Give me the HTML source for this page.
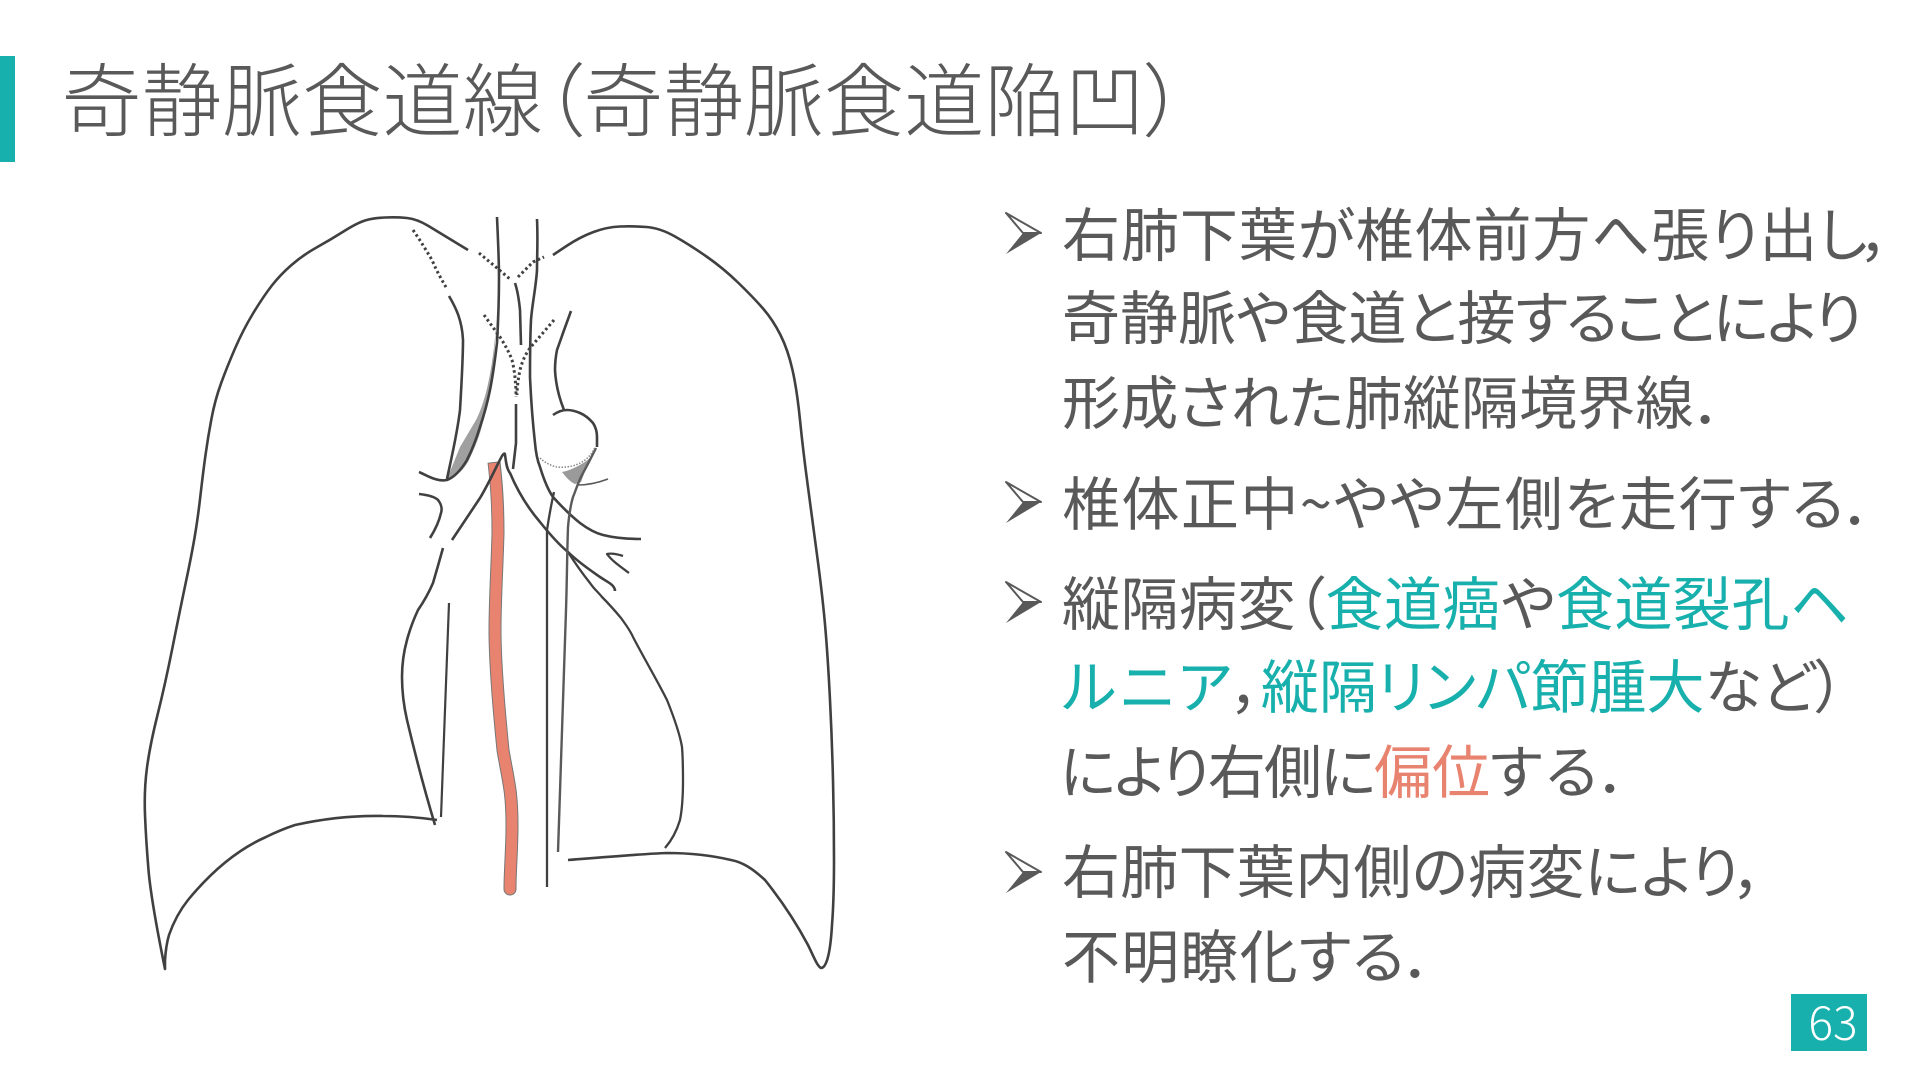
<!DOCTYPE html>
<html lang="ja"><head><meta charset="utf-8">
<style>
html,body{margin:0;padding:0;background:#fff}
#s{position:relative;width:1920px;height:1080px;overflow:hidden;background:#fff;font-family:"Noto Sans CJK JP","Liberation Sans",sans-serif;font-weight:400;color:#595959}
.l{position:absolute;left:1062px;white-space:nowrap;font-size:58px;line-height:84px;height:84px;font-feature-settings:"palt";}
.t{color:#17b0ac}.r{color:#e8836f}
svg{position:absolute;left:0;top:0}
</style></head><body><div id="s">
<div style="position:absolute;left:0;top:56px;width:15px;height:106px;background:#17b0ac"></div>
<div style="position:absolute;left:61.5px;top:38px;font-size:80px;line-height:116px;white-space:nowrap;font-weight:300;letter-spacing:.25px;font-feature-settings:'palt'">奇静脈食道線（奇静脈食道陥凹）</div>
<svg width="1920" height="1080" viewBox="0 0 1920 1080" fill="none" stroke-linecap="butt" stroke-linejoin="round">
<defs><g id="a"><path d="M0,0 L35,20 L17,20 Z" fill="#fff" stroke="#595959" stroke-width="2"/><path d="M35,20 L17,20 L0,41 Z" fill="#595959"/></g></defs>
<use href="#a" x="1006" y="213"/><use href="#a" x="1006" y="482"/><use href="#a" x="1006" y="582"/><use href="#a" x="1006" y="852"/>
<path d="M497,310 C495,350 489,395 476,420 L460,447 L447,479 C455,477 462,472 468,462 C474,450 477,442 480,433 C490,400 495,360 497,310Z" fill="#a0a0a0"/>
<path d="M562,472 C572,470 583,464 590,458 L581,482 L575,484 C570,482 566,477 562,472Z" fill="#9a9a9a"/>
<path d="M494,462 C496,480 498,500 498,533 C497,570 495,600 495,630 C495,660 498,700 503,750 C508,780 512,790 512,825 C512,850 510,870 510,889" stroke="#777" stroke-width="13"/>
<circle cx="510" cy="889" r="6.500" fill="#777"/>
<path d="M494,463 C496,480 498,500 498,533 C497,570 495,600 495,630 C495,660 498,700 503,750 C508,780 512,790 512,825 C512,850 510,870 510,889" stroke="#e8836f" stroke-width="11"/>
<circle cx="510" cy="889" r="5.500" fill="#e8836f"/>
<g stroke="#404040" stroke-width="2.600">
<path d="M468,250 L454,241.500 Q440,233 428.500,226 Q417,219 407,218 Q397,217 385,217.500 Q373,218 365,220.500 Q357,223 343.500,231.500 Q330,240 316.500,247.500 Q303,255 291.500,265 Q280,275 271.500,286 Q263,297 253,313.500 Q243,330 235,348.500 Q227,367 221,383.500 Q215,400 211.500,418.500 Q208,437 205.500,455 Q203,473 200.500,495 Q198,517 195,535 Q192,553 186,581.500 Q180,610 172.500,647.500 Q165,685 157.500,715 Q150,745 147,767.500 Q144,790 145,815 Q146,840 148.500,870 Q151,900 165,969 L165,960 Q166,945 169,935 Q176,915 188,900 Q225,855 266,837 Q280,830 295,825 Q340,815 383,816 Q410,816 437,820"/>
<path d="M443,548 Q438,566 433,583 Q427,597 418,610 Q411,625 407,640 Q402,658 402,677 Q402,698 407,720 Q420,775 435,825"/>
<path d="M449,603 L441,817" stroke-width="2.200"/>
<path d="M553,255 L566.500,246 Q580,237 593.500,232 Q607,227 620,226.500 Q633,226 646.500,227 Q660,228 675,236.500 Q690,245 706.500,256.500 Q723,268 738,282.500 Q753,297 763,308.500 Q773,320 780.500,335 Q788,350 792.500,370 Q797,390 800,420 Q803,450 807.500,483.500 Q812,517 817.500,558.500 Q823,600 825.500,630 Q828,660 830,700 Q832,740 833,780 Q834,820 834,860 Q834,900 832,925 C830,960 825,968 821,968 C817,966 813,955 808,945 C800,930 785,905 765,880 C752,868 742,862 731,860 C710,855 690,853 667,853 C640,854 605,857 568,860"/>
<path d="M497,217 C498,240 499,260 499,277 C499,300 498,325 497,343 C495,360 493,375 490,390 C487,405 484,415 480,427 C476,440 472,450 467,460 C461,470 455,477 447,480 C437,482 428,476 419,472"/>
<path d="M537,219 C538,240 537,255 537,270 C536,287 532,305 531,320 C530,340 530,360 530,377 C531,400 533,425 535,443 C536,455 538,462 540,467 C544,480 548,490 553,497 C562,507 570,515 580,523 C588,529 595,533 603,535 C615,538 628,539 641,539"/>
<path d="M515,283 C518,292 519,300 520,310 L521,345"/>
<path d="M516,404 L516,443 L513,469"/>
<path d="M449,296 C456,308 462,320 463,340 C463,358 462,376 460,410 C457,435 452,455 447,479"/>
<path d="M571,311 Q564,330 557,350 Q555,360 555,370 Q556,390 564,410"/>
<path d="M553,415 Q560,410 567,410 Q573,410 580,413 Q587,416 593,423 Q597,429 597,437 L597,447"/>
<path d="M554,492 Q550,510 547,530 L547,610 L547,747 L547,887" stroke-width="2.300"/>
<path d="M419,494 C428,495 435,497 438,500 C442,505 442,510 441,513 C439,522 435,530 430,538"/>
<path d="M452,540 L480,498 C488,485 497,465 502,456 C504,453 505,453 505,455 C506,460 506,468 510,473 C518,492 528,508 540,522 C548,532 558,544 568,552 C578,562 590,570 600,577 C606,581 610,583 612,585 C614,587 615,589 615,591"/>
<path d="M568,552 C575,563 582,573 590,583 C594,589 598,592 602,597 C610,605 616,612 621,618 C626,625 630,630 633,637 C645,660 657,680 667,700 C675,720 680,735 682,747 C683,760 683,770 683,780 C683,800 682,810 680,820 C677,830 672,840 665,848" stroke-width="2.300"/>
<path d="M623,556 C617,554 612,553 607,554 C612,561 621,567 629,573" stroke-width="2.300"/>
</g>
<g stroke="#5a5a5a" stroke-width="2.400">
<path d="M596,448 C591,458 587,466 583,473 C578,482 576,490 573,497 C570,507 569,516 568,527 C567,555 567,580 566,610 L558,852"/>
<path d="M578,485 C590,485 600,482 608,479" stroke-width="1.600"/>
</g>
<path d="M540,458 C545,463 552,466 557,467 C567,468 577,466 585,460 C590,456 593,452 595,447" stroke="#888" stroke-width="1.500" stroke-dasharray="1.500 1.500"/>
<g stroke="#404040" stroke-width="3" stroke-dasharray="2.500 2.800">
<path d="M413,230 C420,240 426,250 432,260 C437,272 442,280 447,289"/>
<path d="M479,253 C485,258 491,263 497,268 L511,280"/>
<path d="M518,277 C523,272 528,267 533,262 L544,257"/>
<path d="M484,315 L500,337 C505,345 509,352 512,360 C515,372 516,385 516,397"/>
<path d="M554,320 L530,348 C525,355 522,362 520,370 C518,380 517,388 517,395"/>
</g>
</svg>
<div class="l" style="top:189px;letter-spacing:.95px">右肺下葉が椎体前方へ張り出し<span style="margin-left:-6px">，</span></div>
<div class="l" style="top:272px">奇静脈や食道と接<span style="letter-spacing:-2.1px">することにより</span></div>
<div class="l" style="top:357px;letter-spacing:.25px">形成された肺縦隔境界線<span style="margin-left:2px">．</span></div>
<div class="l" style="top:458px;letter-spacing:1.45px">椎体正中~やや左側を走行する．</div>
<div class="l" style="top:558px;letter-spacing:.5px">縦隔病変（<span class="t">食道癌</span>や<span class="t">食道裂孔ヘ</span></div>
<div class="l" style="top:641px"><span class="t" style="letter-spacing:4px">ルニア</span><span style="margin-left:-3px;margin-right:-1px">，</span><span class="t">縦隔リンパ節腫大</span>など）</div>
<div class="l" style="top:726px;left:1060px"><span style="letter-spacing:-1.9px">により右側に</span><span class="r">偏位</span><span style="letter-spacing:3px">する．</span></div>
<div class="l" style="top:826px;letter-spacing:.3px">右肺下葉内側の病変により，</div>
<div class="l" style="top:911px;letter-spacing:1.2px">不明瞭化する．</div>
<div style="position:absolute;left:1791px;top:994px;width:76px;height:57px;background:#17b0ac;color:#fff;font-size:46px;font-weight:300;line-height:55px;text-align:center;text-indent:8px">63</div>
</div></body></html>
